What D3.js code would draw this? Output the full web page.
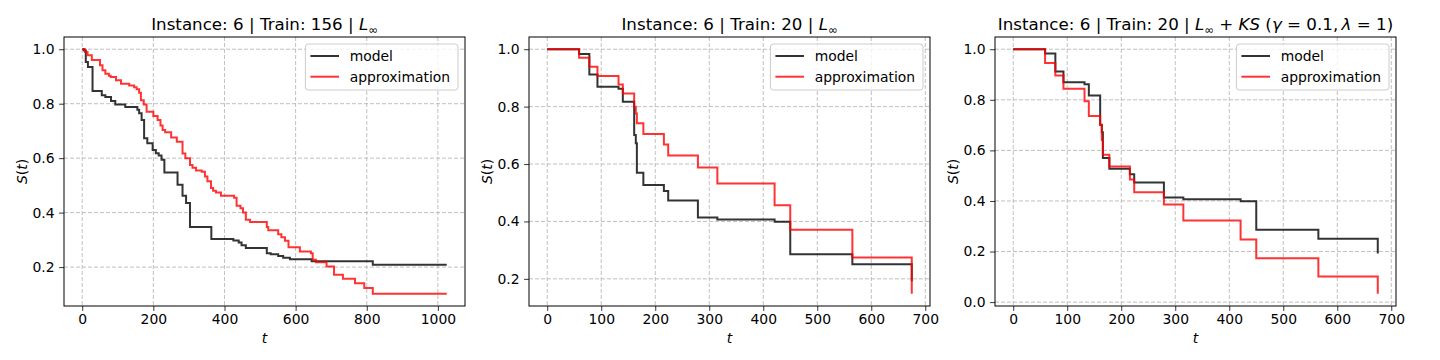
<!DOCTYPE html>
<html>
<head>
<meta charset="utf-8">
<script src="https://cdn.jsdelivr.net/npm/d3@7"></script>
<style>
  body { margin: 0; background: #fff; }
  svg { display: block; }
  text { font-family: "DejaVu Sans", sans-serif; fill: #000; }
</style>
</head>
<body>
<svg id="fig" width="1440" height="360"></svg>
<script>
// ---- data ----
// panel 1 (train 156)
var t156Model = [0, 5, 10, 16, 29, 55, 65, 81, 93, 121, 155, 160, 167, 174, 183, 198, 207, 215, 223, 231, 268, 282, 292, 303, 363, 425, 440, 448, 460, 519, 530, 551, 565, 584, 645, 817, 1025];
var s156Model = [1.0, 0.995, 0.953, 0.935, 0.847, 0.831, 0.825, 0.810, 0.797, 0.788, 0.778, 0.765, 0.740, 0.673, 0.655, 0.630, 0.618, 0.610, 0.594, 0.547, 0.502, 0.462, 0.435, 0.347, 0.303, 0.298, 0.290, 0.280, 0.270, 0.251, 0.247, 0.241, 0.234, 0.229, 0.221, 0.209, 0.209];
var t156Approx = [0, 8, 15, 27, 50, 57, 65, 75, 80, 95, 109, 132, 146, 153, 160, 165, 173, 181, 200, 212, 220, 226, 233, 250, 266, 282, 290, 303, 310, 320, 336, 345, 352, 362, 368, 376, 390, 427, 434, 445, 452, 460, 472, 519, 523, 551, 560, 570, 580, 612, 643, 648, 657, 687, 708, 733, 767, 793, 817, 1025];
var s156Approx = [1.0, 0.990, 0.978, 0.960, 0.941, 0.923, 0.910, 0.903, 0.898, 0.886, 0.873, 0.867, 0.860, 0.853, 0.840, 0.813, 0.797, 0.770, 0.755, 0.740, 0.720, 0.703, 0.695, 0.676, 0.660, 0.617, 0.600, 0.575, 0.565, 0.555, 0.550, 0.533, 0.515, 0.490, 0.480, 0.474, 0.462, 0.455, 0.425, 0.416, 0.400, 0.374, 0.366, 0.347, 0.335, 0.321, 0.310, 0.297, 0.273, 0.257, 0.251, 0.227, 0.218, 0.202, 0.172, 0.157, 0.141, 0.123, 0.102, 0.102];

// panels 2 and 3 (train 20) share the time grid and the model curve
var t20 = [0, 59, 78, 93, 132, 140, 161, 164, 166, 178, 216, 224, 279, 315, 421, 450, 565, 675];
var s20Model = [1.0, 0.983, 0.912, 0.869, 0.862, 0.817, 0.701, 0.672, 0.570, 0.527, 0.506, 0.473, 0.414, 0.407, 0.399, 0.286, 0.251, 0.192];
var s20ApproxL = [1.0, 0.970, 0.939, 0.907, 0.877, 0.846, 0.800, 0.776, 0.742, 0.705, 0.668, 0.630, 0.588, 0.532, 0.456, 0.371, 0.274, 0.148];
var s20ApproxKS = [1.0, 0.946, 0.896, 0.844, 0.794, 0.736, 0.700, 0.641, 0.583, 0.536, 0.485, 0.434, 0.386, 0.323, 0.248, 0.173, 0.101, 0.033];

var ticks156 = [0, 200, 400, 600, 800, 1000];
var ticks20 = [0, 100, 200, 300, 400, 500, 600, 700];
var yTicksA = [0.2, 0.4, 0.6, 0.8, 1.0];
var yTicksB = [0.0, 0.2, 0.4, 0.6, 0.8, 1.0];
var legendNames = ["model", "approximation"];

// title pieces: plain text, italic, subscript
var titles = [
  [["Instance: 6 | Train: 156 | "], ["L", "i"], ["\u221e", "s"]],
  [["Instance: 6 | Train: 20 | "], ["L", "i"], ["\u221e", "s"]],
  [["Instance: 6 | Train: 20 | "], ["L", "i"], ["\u221e", "s"], [" + "], ["KS", "i"], [" ("], ["\u03b3", "i"], [" = 0.1,\u2009"], ["\u03bb", "i"], [" = 1)"]]
];

var panels = [
  { left: 64, ticks: ticks156, yTicks: yTicksA, title: titles[0],
    series: [[t156Model, s156Model], [t156Approx, s156Approx]] },
  { left: 529, ticks: ticks20, yTicks: yTicksA, title: titles[1],
    series: [[t20, s20Model], [t20, s20ApproxL]] },
  { left: 995, ticks: ticks20, yTicks: yTicksB, title: titles[2],
    series: [[t20, s20Model], [t20, s20ApproxKS]] }
];

var colors = ["rgba(0,0,0,0.8)", "rgba(255,0,0,0.8)"];
var W = 401, H = 269, TOP = 37;

var svg = d3.select("#fig");

panels.forEach(function(p) {
  var g = svg.append("g").attr("transform", "translate(" + p.left + "," + TOP + ")");

  // autoscale like matplotlib: 5% margins
  var allT = d3.merge(p.series.map(function(s) { return s[0]; }));
  var allS = d3.merge(p.series.map(function(s) { return s[1]; }));
  var tx = d3.extent(allT), sy = d3.extent(allS);
  var mx = (tx[1] - tx[0]) * 0.05, my = (sy[1] - sy[0]) * 0.05;

  var x = d3.scaleLinear().domain([tx[0] - mx, tx[1] + mx]).range([0, W]);
  var y = d3.scaleLinear().domain([sy[0] - my, sy[1] + my]).range([H, 0]);

  // grid
  g.append("g").selectAll("line").data(p.ticks).enter().append("line")
    .attr("x1", function(d) { return x(d); }).attr("x2", function(d) { return x(d); })
    .attr("y1", 0).attr("y2", H)
    .attr("stroke", "#b0b0b0").attr("stroke-width", 0.8).attr("stroke-dasharray", "4,2");
  g.append("g").selectAll("line").data(p.yTicks).enter().append("line")
    .attr("y1", function(d) { return y(d); }).attr("y2", function(d) { return y(d); })
    .attr("x1", 0).attr("x2", W)
    .attr("stroke", "#b0b0b0").attr("stroke-width", 0.8).attr("stroke-dasharray", "4,2");

  // curves
  var line = d3.line().curve(d3.curveStepAfter)
    .x(function(d) { return x(d[0]); })
    .y(function(d) { return y(d[1]); });
  p.series.forEach(function(s, i) {
    g.append("path")
      .attr("d", line(d3.zip(s[0], s[1])))
      .attr("fill", "none")
      .attr("stroke", colors[i])
      .attr("stroke-width", 2);
  });

  // axes
  var ax = g.append("g").attr("transform", "translate(0," + H + ")")
    .call(d3.axisBottom(x).tickValues(p.ticks).tickSize(4.9).tickPadding(3.5).tickFormat(d3.format("d")));
  var ay = g.append("g")
    .call(d3.axisLeft(y).tickValues(p.yTicks).tickSize(4.9).tickPadding(4.5).tickFormat(d3.format(".1f")));
  [ax, ay].forEach(function(a) {
    a.select(".domain").remove();
    a.selectAll("line").attr("stroke", "#000").attr("stroke-width", 0.8);
    a.selectAll("text").attr("font-size", 13.9).attr("font-family", "DejaVu Sans").attr("fill", "#000");
  });
  g.append("rect").attr("width", W).attr("height", H)
    .attr("fill", "none").attr("stroke", "#000").attr("stroke-width", 1);

  // labels
  g.append("text").attr("x", W / 2).attr("y", H + 37)
    .attr("text-anchor", "middle").attr("font-size", 13.9).attr("font-style", "italic").text("t");
  var yl = g.append("text").attr("transform", "translate(-37," + (H / 2) + ") rotate(-90)")
    .attr("text-anchor", "middle").attr("font-size", 13.9);
  yl.append("tspan").attr("font-style", "italic").text("S");
  yl.append("tspan").text("(");
  yl.append("tspan").attr("font-style", "italic").text("t");
  yl.append("tspan").text(")");

  // title
  var tt = g.append("text").attr("x", W / 2).attr("y", -7)
    .attr("text-anchor", "middle").attr("font-size", 16.7);
  var shifted = false;
  p.title.forEach(function(part) {
    var sp = tt.append("tspan").text(part[0]);
    if (part[1] === "i") sp.attr("font-style", "italic");
    if (part[1] === "s") { sp.attr("font-size", 11.5).attr("dy", 3.5); shifted = true; }
    else if (shifted) { sp.attr("dy", -3.5); shifted = false; }
  });

  // legend
  var lw = 152.6, lh = 46;
  var lg = g.append("g").attr("transform", "translate(" + (W - 7 - lw) + ",7)");
  lg.append("rect").attr("width", lw).attr("height", lh).attr("rx", 3)
    .attr("fill", "rgba(255,255,255,0.8)").attr("stroke", "#cccccc").attr("stroke-width", 1);
  legendNames.forEach(function(name, i) {
    var cy = 12 + i * 20.7;
    lg.append("line").attr("x1", 5).attr("x2", 33.6).attr("y1", cy).attr("y2", cy)
      .attr("stroke", colors[i]).attr("stroke-width", 2);
    lg.append("text").attr("x", 44.3).attr("y", cy + 5).attr("font-size", 13.9).text(name);
  });
});
</script>
</body>
</html>
